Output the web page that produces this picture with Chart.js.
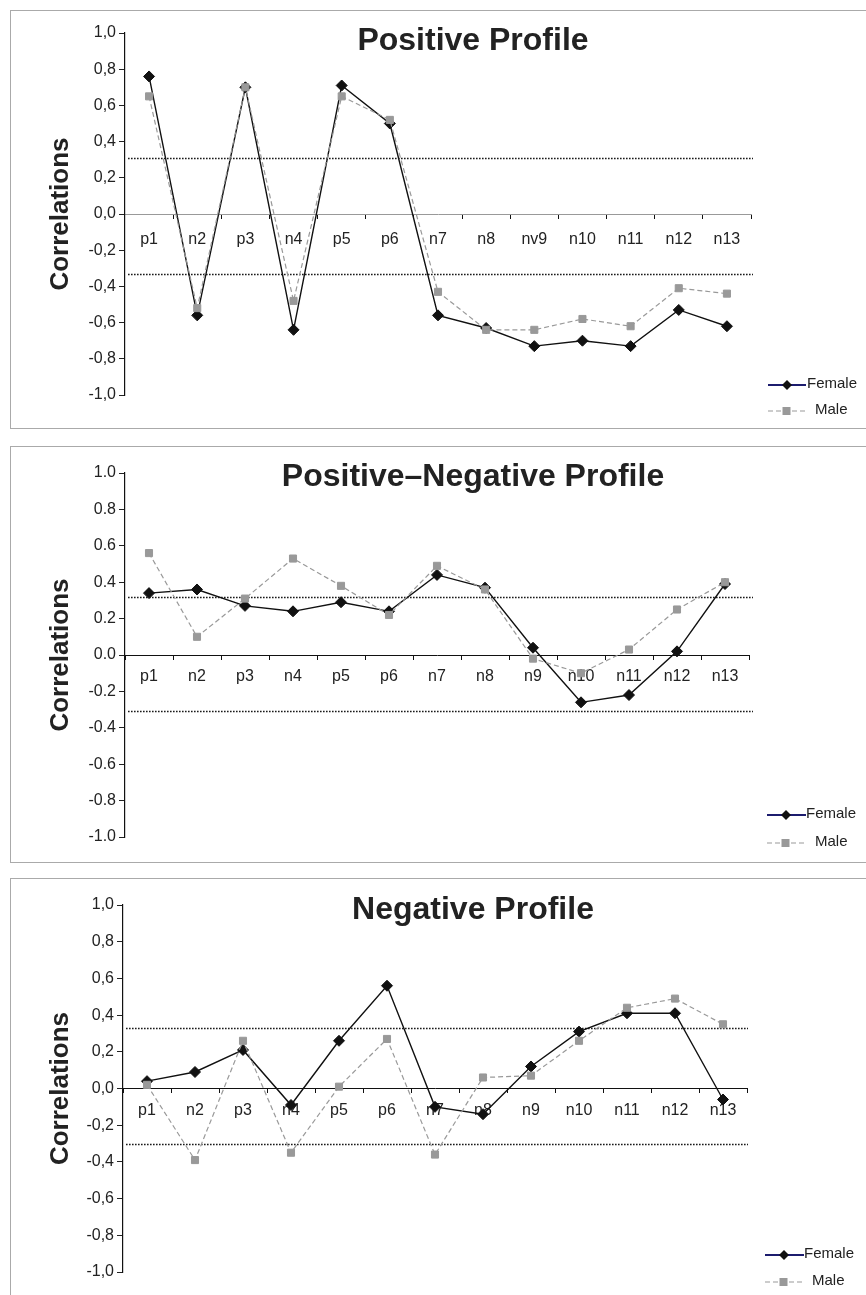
<!DOCTYPE html>
<html>
<head>
<meta charset="utf-8">
<script src="https://cdn.jsdelivr.net/npm/chart.js@4.4.1/dist/chart.umd.min.js"></script>
<style>
  body { margin: 0; width: 866px; height: 1295px; overflow: hidden; background: #fff; position: relative;
         font-family: "Liberation Sans", Arial, sans-serif; color: #222; }
  .frame { position: absolute; left: 10px; width: 900px; border: 1px solid #aaa; box-sizing: border-box; }
  canvas { position: absolute; left: 0; }
  .title { position: absolute; left: 0; width: 946px; text-align: center; font-weight: bold;
           font-size: 32px; line-height: 32px; color: #222; white-space: nowrap; }
  .leg { position: absolute; font-size: 15px; line-height: 15px; color: #222; white-space: nowrap; }
  .legsym { position: absolute; }
</style>
</head>
<body>
<div class="frame" style="top:10px;height:419px"></div>
<div class="frame" style="top:446px;height:417px"></div>
<div class="frame" style="top:878px;height:450px"></div>

<canvas id="chart1" width="866" height="418" style="top:10px"></canvas>
<canvas id="chart2" width="866" height="416" style="top:446px"></canvas>
<canvas id="chart3" width="866" height="417" style="top:878px"></canvas>

<div class="title" style="top:23px">Positive Profile</div>
<div class="title" style="top:459px">Positive–Negative Profile</div>
<div class="title" style="top:892px">Negative Profile</div>

<script>
// categories
const labelsPositive = ['p1', 'n2', 'p3', 'n4', 'p5', 'p6', 'n7', 'n8', 'nv9', 'n10', 'n11', 'n12', 'n13'];
const labelsOther = ['p1', 'n2', 'p3', 'n4', 'p5', 'p6', 'n7', 'n8', 'n9', 'n10', 'n11', 'n12', 'n13'];
const seriesNames = ['Female', 'Male'];

// Positive Profile
const positiveFemale = [0.76, -0.56, 0.70, -0.64, 0.71, 0.50, -0.56, -0.63, -0.73, -0.70, -0.73, -0.53, -0.62];
const positiveMale = [0.65, -0.52, 0.70, -0.48, 0.65, 0.52, -0.43, -0.64, -0.64, -0.58, -0.62, -0.41, -0.44];
const positiveLimits = [0.31, -0.33];

// Positive-Negative Profile
const posNegFemale = [0.34, 0.36, 0.27, 0.24, 0.29, 0.24, 0.44, 0.37, 0.04, -0.26, -0.22, 0.02, 0.39];
const posNegMale = [0.56, 0.10, 0.31, 0.53, 0.38, 0.22, 0.49, 0.36, -0.02, -0.10, 0.03, 0.25, 0.40];
const posNegLimits = [0.32, -0.31];

// Negative Profile
const negativeFemale = [0.04, 0.09, 0.21, -0.09, 0.26, 0.56, -0.10, -0.14, 0.12, 0.31, 0.41, 0.41, -0.06];
const negativeMale = [0.02, -0.39, 0.26, -0.35, 0.01, 0.27, -0.36, 0.06, 0.07, 0.26, 0.44, 0.49, 0.35];
const negativeLimits = [0.33, -0.30];

const yTicks = { min: -1, max: 1, step: 0.2 };

const FONT = '"Liberation Sans", Arial, sans-serif';

function limitLines(values, extend) {
    return {
        id: 'limitLines',
        beforeDatasetsDraw(chart) {
            const { ctx, chartArea, scales } = chart;
            ctx.save();
            ctx.strokeStyle = '#1a1a1a';
            ctx.lineWidth = 1.6;
            ctx.setLineDash([1.6, 1.4]);
            values.forEach(v => {
                const py = Math.round(scales.y.getPixelForValue(v)) + 0.5;
                ctx.beginPath();
                ctx.moveTo(chartArea.left + 3, py);
                ctx.lineTo(chartArea.right + extend, py);
                ctx.stroke();
            });
            ctx.restore();
        }
    };
}

function makeChart(id, labels, female, male, limits, cfg) {
    return new Chart(document.getElementById(id).getContext('2d'), {
        type: 'line',
        data: {
            labels: labels,
            datasets: [{
                label: seriesNames[0],
                data: female,
                borderColor: '#111',
                borderWidth: 1.4,
                backgroundColor: '#111',
                pointStyle: 'rectRot',
                pointRadius: 5.5,
                pointBorderWidth: 1,
                pointBorderColor: '#111',
                pointBackgroundColor: '#111',
                tension: 0,
                order: 1
            }, {
                label: seriesNames[1],
                data: male,
                borderColor: '#999',
                borderWidth: 1.2,
                borderDash: [5, 3],
                backgroundColor: '#999',
                pointStyle: 'rect',
                pointRadius: 5,
                pointBorderWidth: 1,
                pointBorderColor: '#999',
                pointBackgroundColor: '#999',
                tension: 0,
                order: 0
            }]
        },
        options: {
            responsive: false,
            animation: false,
            events: [],
            layout: { padding: cfg.padding },
            plugins: {
                legend: { display: false },
                title: { display: false },
                tooltip: { enabled: false }
            },
            scales: {
                x: {
                    type: 'category',
                    position: { y: 0 },
                    offset: true,
                    afterFit: s => { s.height = 0; },
                    grid: { offset: true, drawOnChartArea: false, drawTicks: true, tickLength: 4, color: '#111' },
                    border: { color: cfg.zeroColor, width: 1 },
                    ticks: {
                        autoSkip: false, maxRotation: 0, padding: cfg.labelPad,
                        color: '#222', font: { family: FONT, size: 16 }
                    }
                },
                y: {
                    min: yTicks.min,
                    max: yTicks.max,
                    afterFit: s => { s.width = cfg.yWidth; },
                    grid: { drawOnChartArea: false, drawTicks: true, tickLength: 6, color: '#222' },
                    border: { color: '#111', width: 1.2 },
                    ticks: {
                        stepSize: yTicks.step,
                        padding: 3,
                        color: '#222',
                        font: { family: FONT, size: 16 },
                        callback: v => {
                            const s = Number(v).toFixed(1);
                            return cfg.comma ? s.replace('.', ',') : s;
                        }
                    },
                    title: {
                        display: true,
                        text: 'Correlations',
                        color: '#222',
                        padding: { top: 5, bottom: 4 },
                        font: { family: FONT, size: 26, weight: 'bold' }
                    }
                }
            }
        },
        plugins: [limitLines(limits, cfg.extend)]
    });
}

function addLegend(chart, pos) {
    const ds = chart.data.datasets;
    const rows = [
        { y: pos.yFemale, textX: pos.femaleX, svg:
            '<line x1="0" y1="6" x2="' + pos.len + '" y2="6" stroke="#1c1c6e" stroke-width="2"/>' +
            '<polygon points="19,1 24,6 19,11 14,6" fill="' + ds[0].pointBackgroundColor + '"/>' },
        { y: pos.yMale, textX: pos.maleX, svg:
            '<line x1="0" y1="6" x2="' + pos.len + '" y2="6" stroke="' + ds[1].borderColor + '" stroke-width="1.2" stroke-dasharray="5,3"/>' +
            '<rect x="14.5" y="2" width="8" height="8" fill="' + ds[1].pointBackgroundColor + '"/>' }
    ];
    rows.forEach((r, i) => {
        const sym = document.createElement('div');
        sym.className = 'legsym';
        sym.style.left = pos.x + 'px';
        sym.style.top = (r.y - 6) + 'px';
        sym.innerHTML = '<svg width="' + pos.len + '" height="12">' + r.svg + '</svg>';
        document.body.appendChild(sym);
        const t = document.createElement('div');
        t.className = 'leg';
        t.style.left = r.textX + 'px';
        t.style.top = (r.y - 8) + 'px';
        t.textContent = ds[i].label;
        document.body.appendChild(t);
    });
}

const chart1 = makeChart('chart1', labelsPositive, positiveFemale, positiveMale, positiveLimits, {
    padding: { left: 40, top: 23, bottom: 33, right: 115 },
    yWidth: 85, labelPad: 12, comma: true, zeroColor: '#999', extend: 2
});
const chart2 = makeChart('chart2', labelsOther, posNegFemale, posNegMale, posNegLimits, {
    padding: { left: 40, top: 27, bottom: 25, right: 117 },
    yWidth: 85, labelPad: 8, comma: false, zeroColor: '#111', extend: 4
});
const chart3 = makeChart('chart3', labelsOther, negativeFemale, negativeMale, negativeLimits, {
    padding: { left: 40, top: 27, bottom: 23, right: 119 },
    yWidth: 83, labelPad: 8, comma: true, zeroColor: '#111', extend: 1
});

addLegend(chart1, { x: 768, len: 38, yFemale: 383, yMale: 409, femaleX: 807, maleX: 815 });
addLegend(chart2, { x: 767, len: 39, yFemale: 813, yMale: 841, femaleX: 806, maleX: 815 });
addLegend(chart3, { x: 765, len: 39, yFemale: 1253, yMale: 1280, femaleX: 804, maleX: 812 });
</script>
</body>
</html>
